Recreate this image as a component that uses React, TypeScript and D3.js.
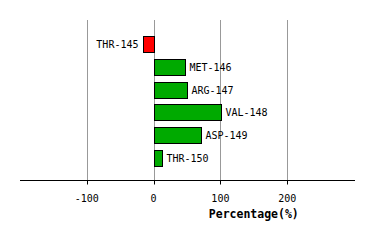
import React from "react";
import * as d3 from "d3";

const residues = ["THR-145", "MET-146", "ARG-147", "VAL-148", "ASP-149", "THR-150"];
const percentages = [-16, 47.5, 50.5, 101.5, 71.5, 12.5];
const tickValues = [-100, 0, 100, 200];
const xTitle = "Percentage(%)";

export default function App() {
  const W = 374, H = 240;
  const x = d3.scaleLinear().domain([-200, 300]).range([20, 354]);
  const y = d3.scaleBand<string>().domain(residues).range([33, 169]).paddingInner(0.3).paddingOuter(0.15);
  const axisY = 180.5;
  const font = "'DejaVu Sans Mono', monospace";
  return (
    <svg width={W} height={H} style={{ position: "absolute", left: 0, top: 0, background: "#fff" }}>
      {tickValues.map((t) => (
        <line key={"g" + t} x1={Math.round(x(t)) + 0.5} x2={Math.round(x(t)) + 0.5} y1={20} y2={axisY} stroke="#999" strokeWidth={1} />
      ))}
      {residues.map((r, i) => {
        const v = percentages[i];
        const x0 = Math.round(x(Math.min(0, v))) + 0.5;
        const x1 = Math.round(x(Math.max(0, v))) + 0.5;
        const yt = Math.round(y(r)!) + 0.5;
        const bh = Math.round(y.bandwidth());
        const cy = yt + bh / 2;
        return (
          <g key={r}>
            <rect x={x0} y={yt} width={x1 - x0} height={bh} fill={v < 0 ? "#ff0000" : "#00aa00"} stroke="#000" strokeWidth={1} />
            <text
              x={v < 0 ? x0 - 5 : x1 + 4}
              y={cy}
              dy="0.35em"
              textAnchor={v < 0 ? "end" : "start"}
              fontFamily={font}
              fontSize={10}
              fill="#000"
            >
              {r}
            </text>
          </g>
        );
      })}
      <line x1={20} x2={355} y1={axisY} y2={axisY} stroke="#000" strokeWidth={1} />
      {tickValues.map((t) => (
        <g key={"t" + t}>
          <line x1={Math.round(x(t)) + 0.5} x2={Math.round(x(t)) + 0.5} y1={axisY} y2={axisY + 4} stroke="#000" strokeWidth={1} />
          <text x={x(t)} y={198} dy="0.35em" textAnchor="middle" fontFamily={font} fontSize={10} fill="#000">
            {t}
          </text>
        </g>
      ))}
      <text x={x(150)} y={214} dy="0.35em" textAnchor="middle" fontFamily={font} fontSize={11.5} fontWeight="bold" fill="#000">
        {xTitle}
      </text>
    </svg>
  );
}
